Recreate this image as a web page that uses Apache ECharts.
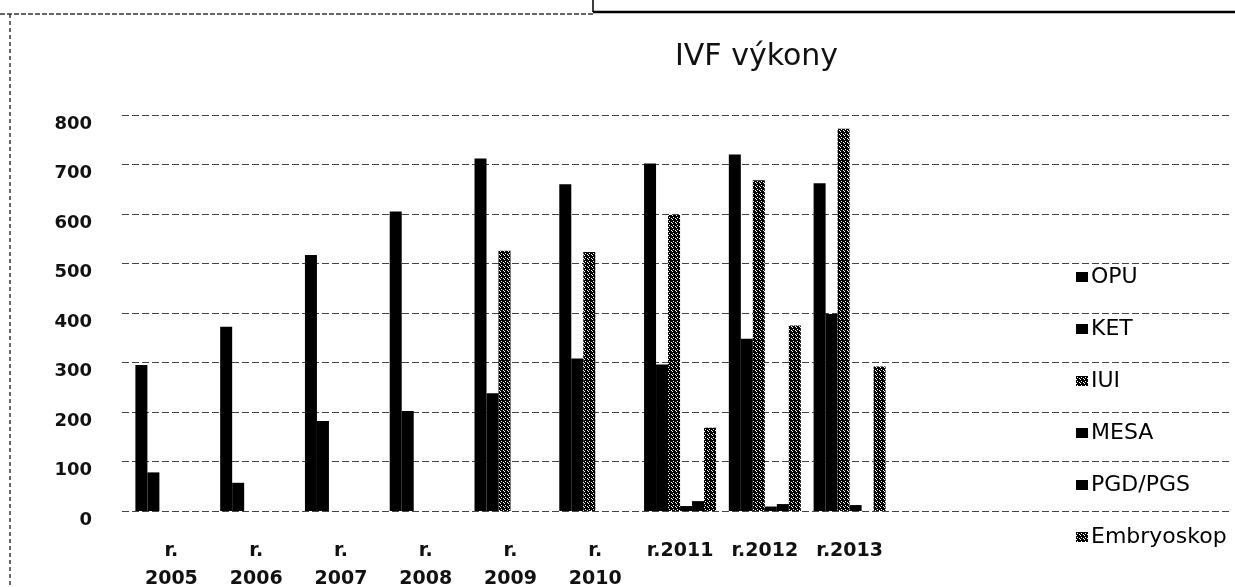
<!DOCTYPE html>
<html>
<head>
<meta charset="utf-8">
<title>IVF výkony</title>
<script src="https://cdn.jsdelivr.net/npm/echarts@6/dist/echarts.min.js"></script>
<style>
  html, body { margin: 0; padding: 0; background: #fff; }
  #main { width: 1235px; height: 587px; }
</style>
</head>
<body>
<div id="main"></div>
<script>
// categories (roky)
var years = ['r. 2005', 'r. 2006', 'r. 2007', 'r. 2008', 'r. 2009', 'r. 2010', 'r.2011', 'r.2012', 'r.2013'];
var seriesNames = ['OPU', 'KET', 'IUI', 'MESA', 'PGD/PGS', 'Embryoskop'];

// hodnoty
var opu   = [295, 372, 517, 605, 712, 660, 702, 720, 662];
var ket   = [78, 57, 182, 202, 238, 308, 296, 348, 398];
var iui   = [0, 0, 0, 0, 526, 523, 598, 668, 772];
var mesa  = [0, 0, 0, 0, 0, 0, 10, 9, 12];
var pgd   = [0, 0, 0, 0, 0, 0, 20, 14, 0];
var embryo = [0, 0, 0, 0, 0, 0, 168, 375, 292];

var yTicks = [0, 100, 200, 300, 400, 500, 600, 700, 800];

// tečkovaná výplň (IUI, Embryoskop)
function makePattern() {
  var c = document.createElement('canvas');
  c.width = 4;
  c.height = 4;
  var ctx = c.getContext('2d');
  ctx.fillStyle = '#000';
  ctx.fillRect(0, 0, 4, 4);
  ctx.fillStyle = '#fff';
  ctx.fillRect(1, 1, 1, 1);
  ctx.fillRect(3, 2, 1, 1);
  ctx.fillRect(0, 3, 1, 1);
  return { image: c, repeat: 'repeat' };
}
var dots = makePattern();

var chart = echarts.init(document.getElementById('main'), null, { renderer: 'canvas' });

function barSeries(name, data, color) {
  return {
    name: name,
    type: 'bar',
    xAxisIndex: 1,
    yAxisIndex: 1,
    data: data,
    barWidth: 12,
    barGap: '0%',
    itemStyle: { color: color }
  };
}

var option = {
  backgroundColor: '#fff',
  animation: false,
  title: {
    text: 'IVF výkony',
    left: 670,
    top: 37,
    textStyle: {
      fontFamily: 'DejaVu Sans',
      fontSize: 30,
      fontWeight: 'normal',
      color: '#111'
    }
  },
  legend: {
    orient: 'vertical',
    left: 1071,
    top: 259,
    icon: 'rect',
    itemWidth: 12,
    itemHeight: 10,
    itemGap: 26,
    data: seriesNames,
    textStyle: {
      fontFamily: 'DejaVu Sans',
      fontSize: 22,
      lineHeight: 26,
      color: '#000',
      padding: [0, 0, 0, -2]
    }
  },
  grid: [
    // mřížka přes celou šířku
    { left: 122, right: 5, top: 115, bottom: 76, outerBoundsMode: 'none' },
    // sloupce
    { left: 129, width: 763, top: 115, bottom: 76, outerBoundsMode: 'none' }
  ],
  xAxis: [
    { type: 'value', gridIndex: 0, min: 0, max: 1, show: false },
    {
      type: 'category',
      gridIndex: 1,
      data: years,
      axisLine: { show: false },
      axisTick: { show: false },
      axisLabel: {
        margin: 26,
        fontFamily: 'DejaVu Sans',
        fontWeight: 'bold',
        fontSize: 19,
        lineHeight: 28,
        color: '#111',
        interval: 0,
        formatter: function (v) { return v.replace(' ', '\n'); }
      }
    }
  ],
  yAxis: [
    {
      type: 'value',
      gridIndex: 0,
      min: 0,
      max: 800,
      interval: 100,
      axisLine: { show: false },
      axisTick: { show: false },
      axisLabel: {
        margin: 30,
        fontFamily: 'DejaVu Sans',
        fontWeight: 'bold',
        fontSize: 18,
        color: '#111',
        verticalAlign: 'top',
        formatter: function (v) { return yTicks.indexOf(v) >= 0 ? String(v) : ''; }
      },
      splitLine: {
        show: true,
        lineStyle: { color: '#444', width: 1, type: [7, 3] }
      }
    },
    { type: 'value', gridIndex: 1, min: 0, max: 800, interval: 100, show: false, splitLine: { show: false } }
  ],
  graphic: [
    { type: 'line', shape: { x1: 0, y1: 14, x2: 593, y2: 14 }, style: { stroke: '#333', lineWidth: 1.5, lineDash: [5, 2] } },
    { type: 'line', shape: { x1: 10, y1: 14, x2: 10, y2: 587 }, style: { stroke: '#333', lineWidth: 1.5, lineDash: [4, 3] } },
    { type: 'line', shape: { x1: 593, y1: 0, x2: 593, y2: 12 }, style: { stroke: '#000', lineWidth: 1.5 } },
    { type: 'line', shape: { x1: 593, y1: 12, x2: 1235, y2: 12 }, style: { stroke: '#000', lineWidth: 2.5 } }
  ],
  series: [
    barSeries('OPU', opu, '#000'),
    barSeries('KET', ket, '#000'),
    barSeries('IUI', iui, dots),
    barSeries('MESA', mesa, '#000'),
    barSeries('PGD/PGS', pgd, '#000'),
    barSeries('Embryoskop', embryo, dots)
  ]
};

chart.setOption(option);
</script>
</body>
</html>
